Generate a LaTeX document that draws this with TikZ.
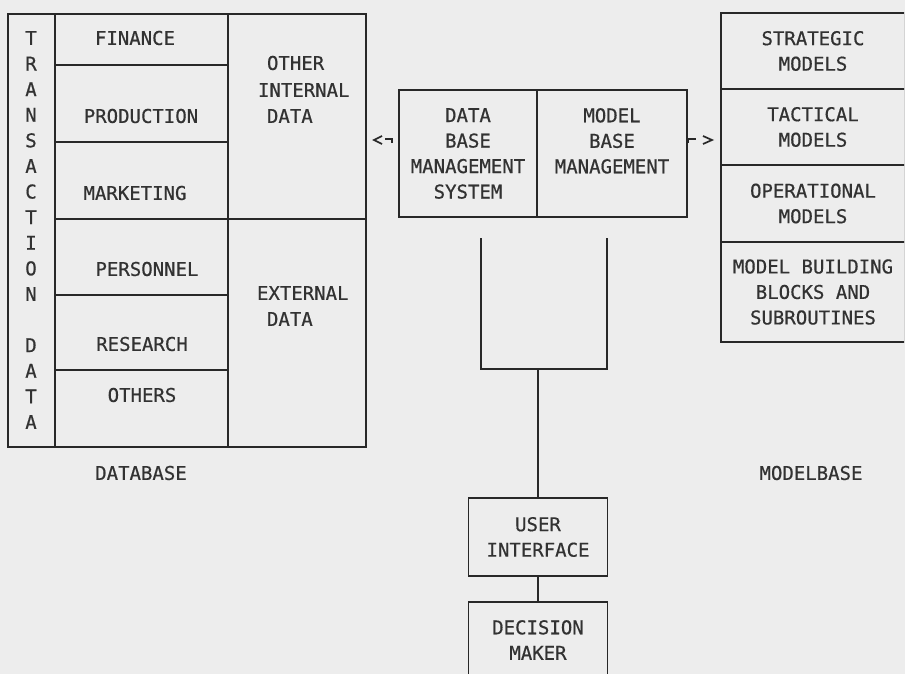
\documentclass[tikz,border=0pt]{standalone}
\usepackage{fontspec}
\newfontfamily\typefont{DejaVu Sans Mono}[FakeBold=0.6]
\usetikzlibrary{calc}
\definecolor{paper}{RGB}{237,237,237}
\definecolor{ink}{RGB}{40,40,40}
\definecolor{typeink}{RGB}{50,50,50}

\begin{document}
\begin{tikzpicture}[x=1pt,y=-1pt,
  every node/.style={font=\typefont\fontsize{19}{25.5}\selectfont, text=typeink, inner sep=0pt, outer sep=0pt},
  box/.style={draw=ink, line width=1.7pt, align=center},
  mcell/.style={box, minimum width=184pt},
  conn/.style={draw=ink, line width=1.7pt},
  head/.style={draw=ink, line width=1.7pt, line join=miter}
]
\useasboundingbox (0,0) rectangle (905,674);
\fill[paper] (0,0) rectangle (905,674);
\clip (0,0) rectangle (904,674);

% ---------------- database ----------------
\node[box, minimum width=358pt, minimum height=433pt] (db) at (187,230.5) {};
\draw[conn] (55,14) -- (55,447);
\draw[conn] (228,14) -- (228,447);
\foreach \y in {65,142,219,295,370} \draw[conn] (55,\y) -- (228,\y);
\draw[conn] (228,219) -- (366,219);

% vertical "TRANSACTION DATA"
\foreach \ch [count=\k from 0] in {T,R,A,N,S,A,C,T,I,O,N,{},D,A,T,A}
  \node at (31,38+25.6*\k) {\ch};

\node at (135,38)  {FINANCE};
\node at (141,116) {PRODUCTION};
\node at (135,193) {MARKETING};
\node at (147,269) {PERSONNEL};
\node at (142,344) {RESEARCH};
\node at (142,395) {OTHERS};

\node[anchor=west] at (267,63)  {OTHER};
\node[anchor=west] at (258,90)  {INTERNAL};
\node[anchor=west] at (267,116) {DATA};
\node[anchor=west] at (257,293) {EXTERNAL};
\node[anchor=west] at (267,319) {DATA};

\node at (141,473) {DATABASE};

% ---------------- management systems ----------------
\node[box, minimum width=138pt, minimum height=127pt] (dbms) at (468,153.5)
  {DATA\\BASE\\MANAGEMENT\\SYSTEM};
\node[box, minimum width=150pt, minimum height=127pt] (mbms) at (612,153.5)
  {MODEL\\BASE\\MANAGEMENT\\\mbox{}};

% ---------------- model base ----------------
\node[mcell, minimum height=76pt]  (strat) at (813,51)    {STRATEGIC\\MODELS};
\node[mcell, minimum height=76pt]  (tact)  at (813,127)   {TACTICAL\\MODELS};
\node[mcell, minimum height=77pt]  (oper)  at (813,203.5) {OPERATIONAL\\MODELS};
\node[mcell, minimum height=100pt] (mbb)   at (813,292)   {MODEL BUILDING\\BLOCKS AND\\SUBROUTINES};
\node at (811,473) {MODELBASE};

% ---------------- arrows to database and model base ----------------
\coordinate (la) at ($(dbms.west)+(0,-13.5)$);
\coordinate (lt) at ($(db.east |- la)+(8,0)$);
\draw[conn] ($(la)+(-7,3)$) -- ++(0,-4) -- ++(-7,0);
\draw[head] ($(lt)+(8,-4)$) -- (lt) -- ++(8,4);

\coordinate (ra) at ($(mbms.east)+(0,-13.5)$);
\coordinate (rt) at ($(tact.west |- ra)+(-9,0)$);
\draw[conn] ($(ra)+(1,3)$) -- ++(0,-4) -- ++(8,0);
\draw[head] ($(rt)+(-9,-4)$) -- (rt) -- ++(-9,4);

% ---------------- dialogue path ----------------
\draw[conn] (481,238) -- (481,369) -- (607,369) -- (607,238);
\coordinate (tb) at (538,369);
\node[box, minimum width=139pt, minimum height=78pt] (ui) at (538,537) {USER\\INTERFACE};
\node[box, minimum width=139pt, minimum height=76pt] (dm) at (538,640) {DECISION\\MAKER};
\draw[conn] (tb) -- (ui.north);
\draw[conn] (ui.south) -- (dm.north);
\end{tikzpicture}
\end{document}
